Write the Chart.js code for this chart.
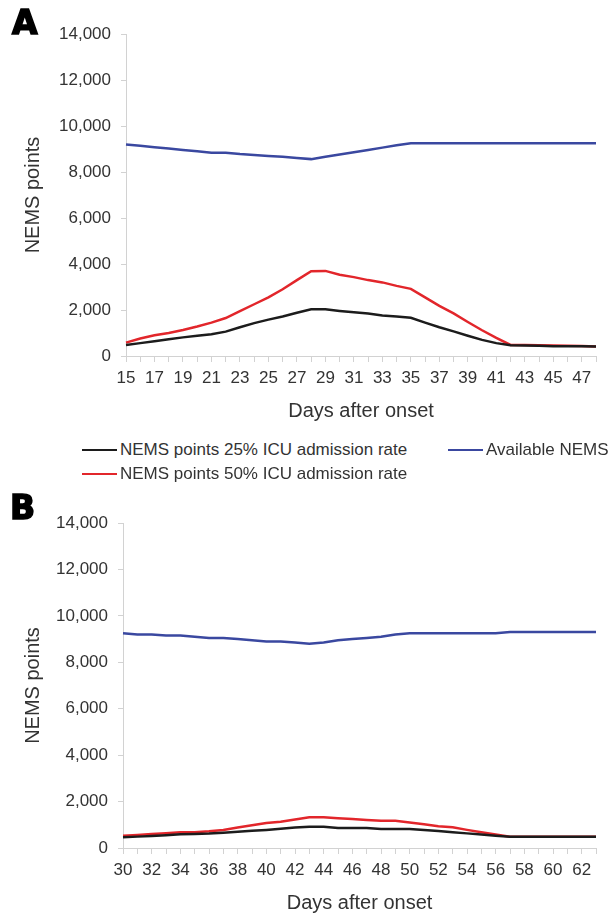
<!DOCTYPE html>
<html><head><meta charset="utf-8">
<script src="https://cdn.jsdelivr.net/npm/chart.js@4.4.1/dist/chart.umd.min.js"></script>
<style>
html,body{margin:0;padding:0;background:#fff;width:612px;height:913px;overflow:hidden;font-family:"Liberation Sans",Arial,sans-serif;}
canvas{position:absolute;left:0;}
#cA{top:0;}
#cB{top:470px;}
.panel{position:absolute;font-family:"DejaVu Sans",sans-serif;font-weight:bold;font-size:33px;line-height:34px;color:#000;-webkit-text-stroke:1.6px #000;}
.leg{position:absolute;font-size:17px;color:#333;white-space:nowrap;line-height:20px;}
.sw{display:inline-block;width:35px;height:0;border-top:2.5px solid;vertical-align:middle;margin-right:3px;position:relative;top:-1px;}
</style></head>
<body>
<canvas id="cA" width="612" height="430"></canvas>
<canvas id="cB" width="612" height="443"></canvas>
<div class="panel" style="left:12px;top:6px;">A</div>
<div class="panel" style="left:10px;top:491px;">B</div>
<div id="legend"></div>
<script>
// ---- data ----
const daysA = [15,16,17,18,19,20,21,22,23,24,25,26,27,28,29,30,31,32,33,34,35,36,37,38,39,40,41,42,43,44,45,46,47,48];
const nems25A = [480,560,640,730,810,880,950,1060,1250,1430,1580,1720,1880,2030,2030,1960,1900,1850,1760,1720,1660,1450,1250,1070,880,700,560,470,460,450,420,420,420,410];
const nems50A = [580,760,900,1000,1130,1280,1450,1650,1950,2250,2550,2900,3300,3690,3700,3530,3430,3300,3200,3050,2920,2550,2180,1850,1480,1120,790,480,480,470,460,450,430,410];
const availA = [9200,9140,9080,9020,8960,8900,8840,8840,8780,8740,8700,8660,8610,8560,8660,8760,8860,8960,9060,9160,9250,9250,9250,9250,9250,9250,9250,9250,9250,9250,9250,9250,9250,9250];

const daysB = [30,31,32,33,34,35,36,37,38,39,40,41,42,43,44,45,46,47,48,49,50,51,52,53,54,55,56,57,58,59,60,61,62,63];
const nems25B = [460,490,520,550,590,600,620,660,700,740,780,830,880,920,920,860,860,860,820,820,820,780,730,680,630,580,530,490,490,490,490,490,490,490];
const nems50B = [530,560,600,640,680,680,720,780,880,980,1080,1130,1230,1320,1320,1280,1250,1210,1170,1170,1100,1020,940,890,780,680,580,490,490,490,490,490,490,490];
const availB = [9250,9200,9200,9150,9150,9100,9050,9050,9000,8950,8900,8900,8850,8800,8850,8950,9000,9050,9100,9200,9250,9250,9250,9250,9250,9250,9250,9300,9300,9300,9300,9300,9300,9300];

const yTicks = [0,2000,4000,6000,8000,10000,12000,14000];
const seriesNames = ['NEMS points 25% ICU admission rate','NEMS points 50% ICU admission rate','Available NEMS'];
const seriesColors = ['#1c1c1c','#e2262b','#3a48a0'];
const xTitle = 'Days after onset';
const yTitle = 'NEMS points';

// ---- charts ----
const FONT = 'Liberation Sans';
const TXT = '#333333';
const AX = '#d2d2d2';

function makeChart(id, labels, s25, s50, avail, L) {
  return new Chart(document.getElementById(id), {
    type: 'line',
    data: {
      labels: labels,
      datasets: [s25, s50, avail].map((d, i) => ({
        label: seriesNames[i], data: d, borderColor: seriesColors[i],
        backgroundColor: seriesColors[i], borderWidth: 2.5, pointRadius: 0,
        tension: 0, fill: false
      }))
    },
    options: {
      responsive: false, animation: false, devicePixelRatio: 1,
      layout: { padding: { top: L.top, right: 16, bottom: 0, left: 0 } },
      plugins: { legend: { display: false }, tooltip: { enabled: false } },
      scales: {
        x: {
          type: 'category', offset: false,
          grid: { display: true, drawOnChartArea: false, drawTicks: true, tickLength: 6, color: AX },
          border: { display: true, color: AX, width: 1 },
          ticks: {
            autoSkip: false, maxRotation: 0, minRotation: 0, padding: 6, color: TXT,
            font: { family: FONT, size: 17 },
            callback: function (v, i) { return i % 2 === 0 ? String(this.getLabelForValue(v)) : ''; }
          },
          title: { display: true, text: xTitle, color: TXT, font: { family: FONT, size: 20, lineHeight: 1 }, padding: { top: 0, bottom: L.xtPad } },
          afterFit: s => { s.height = L.xh; }
        },
        y: {
          min: yTicks[0], max: yTicks[yTicks.length - 1],
          afterBuildTicks: s => { s.ticks = yTicks.map(v => ({ value: v })); },
          grid: { display: true, drawOnChartArea: false, drawTicks: true, tickLength: 5, color: AX },
          border: { display: true, color: AX, width: 1 },
          ticks: {
            padding: 10, color: TXT, font: { family: FONT, size: 17 },
            callback: v => Number(v).toLocaleString('en-US')
          },
          title: { display: true, text: yTitle, color: TXT, font: { family: FONT, size: 20, lineHeight: 1 }, padding: { top: 23, bottom: 0 } },
          afterFit: s => { s.width = L.yw; }
        }
      }
    }
  });
}

makeChart('cA', daysA, nems25A, nems50A, availA, { top: 34, xh: 74, xtPad: 9, yw: 126 });
makeChart('cB', daysB, nems25B, nems50B, availB, { top: 53, xh: 65, xtPad: 0, yw: 123 });

// ---- legend (HTML text) ----
const legPos = [[82, 440], [82, 464], [448, 440]];
const legend = document.getElementById('legend');
seriesNames.forEach((n, i) => {
  const d = document.createElement('div');
  d.className = 'leg';
  d.style.left = legPos[i][0] + 'px';
  d.style.top = legPos[i][1] + 'px';
  const sw = document.createElement('span');
  sw.className = 'sw';
  sw.style.borderTopColor = seriesColors[i];
  d.appendChild(sw);
  d.appendChild(document.createTextNode(n));
  legend.appendChild(d);
});
</script>
</body></html>
